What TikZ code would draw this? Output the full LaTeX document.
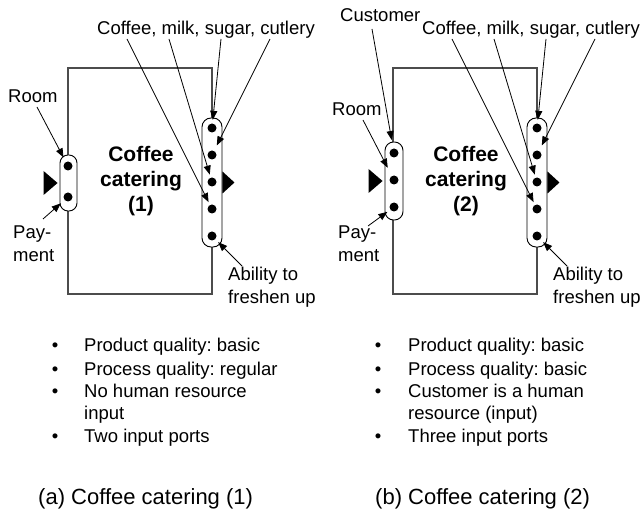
\documentclass[tikz,border=0pt]{standalone}
\usepackage{fontspec}
\setmainfont{Liberation Sans}
\usetikzlibrary{arrows.meta,calc}
\frenchspacing

\tikzset{
  lbl/.style={inner sep=0pt, anchor=base west, font=\fontsize{18.5}{22}\selectfont},
  lblc/.style={lbl, anchor=base},
  title/.style={inner sep=0pt, anchor=base, font=\fontsize{21}{25}\selectfont\bfseries},
  caption/.style={inner sep=0pt, anchor=base west, font=\fontsize{22}{26}\selectfont},
  process/.style={draw=black!70, line width=1.3pt, minimum width=144pt,
                  minimum height=226pt, inner sep=0pt},
  port/.style={draw=black, line width=0.9pt, fill=white, inner sep=0pt},
  res/.style={circle, fill=black, inner sep=0pt, minimum size=9pt},
  flow/.style={draw, line width=0.8pt, -{Triangle[length=9pt,width=7pt]}},
  pointer/.style={fill=black}
}

\begin{document}
\begin{tikzpicture}[x=1pt,y=-1pt]
\useasboundingbox (0,0) rectangle (642,510);

%% ---------------- Coffee catering (1) ----------------
\node[process] (abox) at (140,181) {};
\node[title] (at1) at (141,162) {Coffee};
\node[title] (at2) at (141,187) {catering};
\node[title] (at3) at (141,212) {(1)};

% input port
\node[port, minimum width=17pt, minimum height=56pt, rounded corners=8pt] (ain) at (68.5,183) {};
\node[res] (ain1) at (68,166) {};
\node[res] (ain2) at (68,197) {};
\fill[pointer] ($(ain.west)+(-2,0)$) -- ++(-14,-12) -- ++(0,24) -- cycle;

% output port
\node[port, minimum width=20pt, minimum height=129pt, rounded corners=9pt] (aout) at (212,182.5) {};
\node[res] (aout1) at (212,128) {};
\node[res] (aout2) at (212,155) {};
\node[res] (aout3) at (212,182) {};
\node[res] (aout4) at (212,209) {};
\node[res] (aout5) at (212,236) {};
\fill[pointer] ($(aout.east)+(0,-11)$) -- ++(12,11) -- ++(-12,11) -- cycle;

% labels
\node[lblc] (agoods) at (206,35) {Coffee, milk, sugar, cutlery};
\node[lbl] (aroom) at (8,103) {Room};
\node[lbl] (apay1) at (13,239) {Pay-};
\node[lbl] (apay2) at (13,262) {ment};
\node[lbl] (aabl1) at (228,281) {Ability to};
\node[lbl] (aabl2) at (228,304) {freshen up};

\coordinate (aroomS) at (37,107);
\coordinate (apayS) at (43,219);
\coordinate (aablS) at (242,266);
\coordinate (acofS) at (127,39);
\coordinate (amilkS) at (169,39);
\coordinate (asugS) at (221,39);
\coordinate (acutS) at (270,39);

\draw[flow, shorten >=5pt] (aroomS) -- (ain1);
\draw[flow, shorten >=5pt] (apayS) -- (ain2);
\draw[flow, shorten >=4pt] (aablS) -- (aout5);
\draw[flow, shorten >=3pt] (acofS) -- (aout4);
\draw[flow, shorten >=3pt] (amilkS) -- (aout3);
\draw[flow, shorten >=3.5pt] (asugS) -- (aout1);
\draw[flow, shorten >=6pt] (acutS) -- (aout2);

% properties
\node[lblc] (ab1) at (55,352) {\textbullet};
\node[lbl]  (ai1) at (84,352) {Product quality: basic};
\node[lblc] (ab2) at (55,375) {\textbullet};
\node[lbl]  (ai2) at (84,375) {Process quality: regular};
\node[lblc] (ab3) at (55,397) {\textbullet};
\node[lbl]  (ai3) at (84,397) {No human resource};
\node[lbl]  (ai3b) at (84,419) {input};
\node[lblc] (ab4) at (55,442) {\textbullet};
\node[lbl]  (ai4) at (84,442) {Two input ports};

\node[caption] (acap) at (38,504) {(a) Coffee catering (1)};

%% ---------------- Coffee catering (2) ----------------
\begin{scope}[xshift=325pt]
\node[process] (bbox) at (140,181) {};
\node[title] (bt1) at (141,162) {Coffee};
\node[title] (bt2) at (141,187) {catering};
\node[title] (bt3) at (141,212) {(2)};

% input port
\node[port, minimum width=18pt, minimum height=78pt, rounded corners=8.5pt] (bin) at (69,181) {};
\node[res] (bin1) at (69,153) {};
\node[res] (bin2) at (69,180) {};
\node[res] (bin3) at (69,207) {};
\fill[pointer] ($(bin.west)+(-2,0)$) -- ++(-14,-12) -- ++(0,24) -- cycle;

% output port
\node[port, minimum width=20pt, minimum height=129pt, rounded corners=9pt] (bout) at (212,182.5) {};
\node[res] (bout1) at (212,128) {};
\node[res] (bout2) at (212,155) {};
\node[res] (bout3) at (212,182) {};
\node[res] (bout4) at (212,209) {};
\node[res] (bout5) at (212,236) {};
\fill[pointer] ($(bout.east)+(0,-11)$) -- ++(12,11) -- ++(-12,11) -- cycle;

% labels
\node[lbl]  (bcust) at (15,22) {Customer};
\node[lblc] (bgoods) at (206,35) {Coffee, milk, sugar, cutlery};
\node[lbl] (broom) at (7,116) {Room};
\node[lbl] (bpay1) at (13,239) {Pay-};
\node[lbl] (bpay2) at (13,262) {ment};
\node[lbl] (babl1) at (228,281) {Ability to};
\node[lbl] (babl2) at (228,304) {freshen up};

\coordinate (bcustS) at (47,29);
\coordinate (broomS) at (38,120);
\coordinate (bpayS) at (43,226);
\coordinate (bablS) at (242,266);
\coordinate (bcofS) at (127,39);
\coordinate (bmilkS) at (169,39);
\coordinate (bsugS) at (221,39);
\coordinate (bcutS) at (270,39);

\draw[flow, shorten >=8.5pt] (bcustS) -- (bin1);
\draw[flow, shorten >=9pt] (broomS) -- (bin2);
\draw[flow, shorten >=3.5pt] (bpayS) -- (bin3);
\draw[flow, shorten >=4pt] (bablS) -- (bout5);
\draw[flow, shorten >=3pt] (bcofS) -- (bout4);
\draw[flow, shorten >=3pt] (bmilkS) -- (bout3);
\draw[flow, shorten >=3.5pt] (bsugS) -- (bout1);
\draw[flow, shorten >=6pt] (bcutS) -- (bout2);

% properties
\node[lblc] (bb1) at (53,352) {\textbullet};
\node[lbl]  (bi1) at (83,352) {Product quality: basic};
\node[lblc] (bb2) at (53,375) {\textbullet};
\node[lbl]  (bi2) at (83,375) {Process quality: basic};
\node[lblc] (bb3) at (53,397) {\textbullet};
\node[lbl]  (bi3) at (83,397) {Customer is a human};
\node[lbl]  (bi3b) at (83,419) {resource (input)};
\node[lblc] (bb4) at (53,442) {\textbullet};
\node[lbl]  (bi4) at (83,442) {Three input ports};

\node[caption] (bcap) at (50,504) {(b) Coffee catering (2)};
\end{scope}
\end{tikzpicture}
\end{document}
